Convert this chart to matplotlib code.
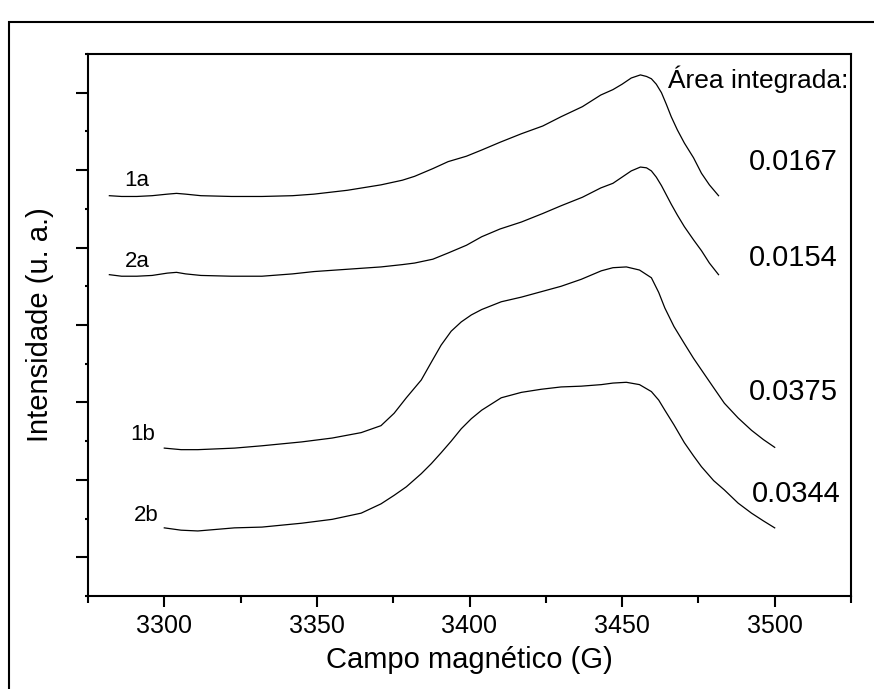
import matplotlib
matplotlib.use("Agg")
import matplotlib.pyplot as plt
from matplotlib.patches import Rectangle
from matplotlib.ticker import MultipleLocator, NullFormatter

plt.rcParams["font.family"] = ["Liberation Sans", "DejaVu Sans"]

# Espectros RPE (unidades arbitrarias)
campo_a = [3282, 3286, 3291, 3296, 3301, 3304, 3307, 3312, 3322, 3332,
           3342, 3349, 3360, 3371, 3378, 3382, 3388, 3393, 3399, 3404,
           3410, 3417, 3424, 3430, 3437, 3443, 3447, 3450, 3453, 3456,
           3458, 3459.6, 3461.2, 3462.9, 3464.5, 3466.1, 3468.1, 3470.4, 3473.4, 3476,
           3478.6, 3481.6]
sinal_1a = [5.17, 5.16, 5.16, 5.17, 5.19, 5.20, 5.19, 5.17, 5.16, 5.16,
            5.17, 5.19, 5.24, 5.31, 5.37, 5.42, 5.52, 5.61, 5.68, 5.76,
            5.86, 5.97, 6.07, 6.19, 6.32, 6.47, 6.54, 6.61, 6.69, 6.73,
            6.71, 6.68, 6.61, 6.50, 6.35, 6.19, 6.02, 5.85, 5.66, 5.46,
            5.31, 5.17]
sinal_2a = [4.15, 4.13, 4.13, 4.14, 4.17, 4.18, 4.16, 4.14, 4.13, 4.13,
            4.16, 4.19, 4.22, 4.25, 4.28, 4.30, 4.35, 4.43, 4.53, 4.64,
            4.74, 4.83, 4.94, 5.04, 5.15, 5.27, 5.33, 5.41, 5.49, 5.54,
            5.53, 5.49, 5.41, 5.30, 5.18, 5.06, 4.92, 4.77, 4.60, 4.46,
            4.30, 4.15]

campo_b = [3300, 3305.5, 3311, 3317, 3323, 3332, 3345, 3355, 3364.5, 3371,
           3375.3, 3379.3, 3384.2, 3387.5, 3390.7, 3394, 3397.3, 3400.6, 3404, 3410.4,
           3417, 3423.5, 3430, 3436.6, 3443.2, 3447, 3451.4, 3455.7, 3459.6, 3462,
           3464, 3467, 3470.4, 3473.4, 3476, 3480, 3483.5, 3488, 3492.4, 3496.3,
           3500]
sinal_1b = [1.91, 1.89, 1.89, 1.90, 1.91, 1.94, 1.99, 2.04, 2.11, 2.20,
            2.36, 2.56, 2.79, 3.02, 3.24, 3.42, 3.54, 3.63, 3.70, 3.80,
            3.86, 3.93, 4.00, 4.09, 4.20, 4.24, 4.25, 4.21, 4.11, 3.92,
            3.72, 3.48, 3.26, 3.07, 2.92, 2.69, 2.49, 2.30, 2.14, 2.02,
            1.92]
sinal_2b = [0.88, 0.85, 0.84, 0.86, 0.88, 0.89, 0.94, 0.99, 1.07, 1.19,
            1.30, 1.41, 1.58, 1.71, 1.85, 2.00, 2.16, 2.29, 2.40, 2.56,
            2.63, 2.67, 2.70, 2.71, 2.73, 2.75, 2.76, 2.73, 2.64, 2.53,
            2.40, 2.21, 1.98, 1.81, 1.67, 1.49, 1.37, 1.20, 1.07, 0.97,
            0.88]

areas = ["0.0167", "0.0154", "0.0375", "0.0344"]

fig = plt.figure(figsize=(8.74, 6.89), dpi=100)
ax = fig.add_axes([88 / 874, 1 - 596 / 689, (851 - 88) / 874, (596 - 54) / 689])

for cx, cy in [(campo_a, sinal_1a), (campo_a, sinal_2a), (campo_b, sinal_1b), (campo_b, sinal_2b)]:
    ax.plot(cx, cy, color="black", lw=0.9)

ax.set_xlim(3275, 3525)
ax.set_ylim(0, 7)

ax.xaxis.set_major_locator(MultipleLocator(50))
ax.xaxis.set_minor_locator(MultipleLocator(25))
ax.set_yticks([0.5 + k for k in range(7)])
ax.yaxis.set_minor_locator(MultipleLocator(1))
ax.yaxis.set_major_formatter(NullFormatter())

ax.tick_params(axis="x", which="major", direction="out", length=8, width=1.5, labelsize=18, pad=5)
ax.tick_params(axis="x", which="minor", direction="out", length=5, width=1.5)
ax.tick_params(axis="y", which="major", direction="out", length=9, width=1.5)
ax.tick_params(axis="y", which="minor", direction="out", length=2, width=1.5)
for s in ax.spines.values():
    s.set_linewidth(1.5)

ax.set_xlabel("Campo magnético (G)", fontsize=21, labelpad=6)
ax.set_ylabel("Intensidade (u. a.)", fontsize=21, labelpad=12)

# rotulos das curvas
ax.text(3291, 5.36, "1a", fontsize=16, ha="center", va="center")
ax.text(3291, 4.32, "2a", fontsize=16, ha="center", va="center")
ax.text(3293, 2.09, "1b", fontsize=16, ha="center", va="center")
ax.text(3294, 1.04, "2b", fontsize=16, ha="center", va="center")

ax.text(3524, 6.68, "Área integrada:", fontsize=19, ha="right", va="center")
for txt, yv, xv in zip(areas, [5.60, 4.36, 2.63, 1.32], [3506, 3506, 3506, 3507]):
    ax.text(xv, yv, txt, fontsize=21, ha="center", va="center")

# moldura externa
fig.patches.append(Rectangle((9 / 874, -0.1), 1.1, 1 - 22 / 689 + 0.1, transform=fig.transFigure,
                             fill=False, edgecolor="black", lw=1.5, clip_on=False))

fig.savefig("out.png", dpi=100)
